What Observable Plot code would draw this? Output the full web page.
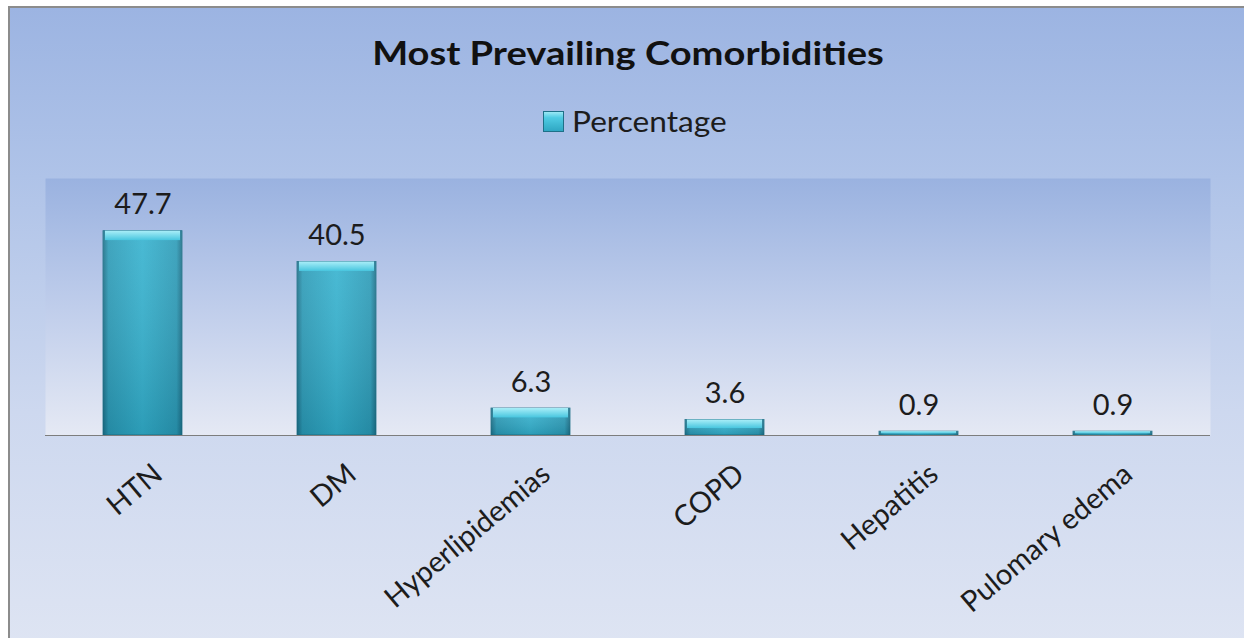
<!DOCTYPE html>
<html><head><meta charset="utf-8">
<script src="https://cdn.jsdelivr.net/npm/d3@7"></script>
<script src="https://cdn.jsdelivr.net/npm/@observablehq/plot@0.6"></script>
<style>
body{margin:0;width:1244px;height:638px;position:relative;overflow:hidden;background:#fff;font-family:Lato,"Open Sans",sans-serif;}
#bg{position:absolute;left:8px;top:6px;width:1260px;height:650px;border-left:2px solid #8c8c8c;border-top:2px solid #8c8c8c;
 background:linear-gradient(to bottom,#9cb4e2 0%,#afc3e8 26%,#cdd8ef 62%,#dfe5f3 100%);}
#title{position:absolute;left:0;width:1256px;top:33px;text-align:center;}
#title span{display:inline-block;font-weight:700;font-size:32px;color:#111;transform:scaleX(1.19);}
#legend{position:absolute;left:543px;top:104px;font-size:28px;color:#1c1c1c;display:flex;align-items:center;}
#swatch{width:21px;height:21px;margin-right:8px;border:1px solid #1e7088;box-sizing:border-box;
 background:linear-gradient(to bottom,#9be8f5 0%,#4fcbe3 30%,#2fa7c3 100%);}
#legendText{display:inline-block;transform:scaleX(1.13);transform-origin:left center;}
#chart{position:absolute;left:0;top:150px;}
</style></head>
<body>
<div id="bg"></div>
<div id="title"><span id="titleText"></span></div>
<div id="legend"><div id="swatch"></div><span id="legendText"></span></div>
<div id="chart"></div>
<script>
const chartTitle = "Most Prevailing Comorbidities";
const seriesName = "Percentage";
const categories = ["HTN", "DM", "Hyperlipidemias", "COPD", "Hepatitis", "Pulomary edema"];
const percentages = [47.7, 40.5, 6.3, 3.6, 0.9, 0.9];
const yDomain = [0, 60];

document.getElementById("titleText").textContent = chartTitle;
document.getElementById("legendText").textContent = seriesName;

const rows = categories.map((c, i) => ({category: c, value: percentages[i]}));

const svg = Plot.plot({
  width: 1244, height: 488,
  marginTop: 28, marginBottom: 203, marginLeft: 45, marginRight: 34,
  x: {domain: categories, paddingInner: 0.593, paddingOuter: 0.2965, axis: null},
  y: {domain: yDomain, axis: null},
  style: {background: "transparent", fontFamily: "Lato, 'Open Sans', sans-serif", overflow: "visible"},
  marks: [
    Plot.frame({fill: "url(#plotBg)"}),
    Plot.barY(rows, {x: "category", y: "value", fill: "url(#barH)", stroke: "#1e7088", strokeWidth: 0.8}),
    Plot.barY(rows, {x: "category", y: "value", fill: "url(#barV)"}),
    Plot.barY(rows, {x: "category", y1: d => d.value, y2: d => d.value - Math.min(2.2, d.value * 0.55),
      fill: "url(#bevel)", insetLeft: 2, insetRight: 2}),
    Plot.ruleY([0], {stroke: "#7d7d7d", strokeWidth: 1.2}),
    Plot.text(rows, {x: "category", y: "value", text: d => d.value.toFixed(1), lineAnchor: "bottom",
      dy: -17, fontSize: 29, fill: "#1c1c1c"}),
    Plot.text(rows, {x: "category", frameAnchor: "bottom", text: "category", rotate: -40,
      textAnchor: "end", lineAnchor: "top", dx: 8, dy: 26, fontSize: 29, fill: "#1c1c1c"})
  ]
});

const defs = d3.select(svg).insert("defs", ":first-child");
const plotBg = defs.append("linearGradient").attr("id", "plotBg").attr("x1", 0).attr("y1", 0).attr("x2", 0).attr("y2", 1);
plotBg.append("stop").attr("offset", "0%").attr("stop-color", "#9ab2e0");
plotBg.append("stop").attr("offset", "55%").attr("stop-color", "#c3d0ec");
plotBg.append("stop").attr("offset", "100%").attr("stop-color", "#e5e9f4");
const barH = defs.append("linearGradient").attr("id", "barH").attr("x1", 0).attr("y1", 0).attr("x2", 1).attr("y2", 0);
[["0%", "#1c6f88"], ["7%", "#2c9bb7"], ["50%", "#35b2cf"], ["93%", "#2c9bb7"], ["100%", "#1c6f88"]]
  .forEach(([o, c]) => barH.append("stop").attr("offset", o).attr("stop-color", c));
const barV = defs.append("linearGradient").attr("id", "barV").attr("x1", 0).attr("y1", 0).attr("x2", 0).attr("y2", 1);
barV.append("stop").attr("offset", "0%").attr("stop-color", "#ffffff").attr("stop-opacity", 0.1);
barV.append("stop").attr("offset", "100%").attr("stop-color", "#003848").attr("stop-opacity", 0.18);
const bevel = defs.append("linearGradient").attr("id", "bevel").attr("x1", 0).attr("y1", 0).attr("x2", 0).attr("y2", 1);
bevel.append("stop").attr("offset", "0%").attr("stop-color", "#a9eef8");
bevel.append("stop").attr("offset", "100%").attr("stop-color", "#48c6df");

document.getElementById("chart").appendChild(svg);
</script>
</body></html>
